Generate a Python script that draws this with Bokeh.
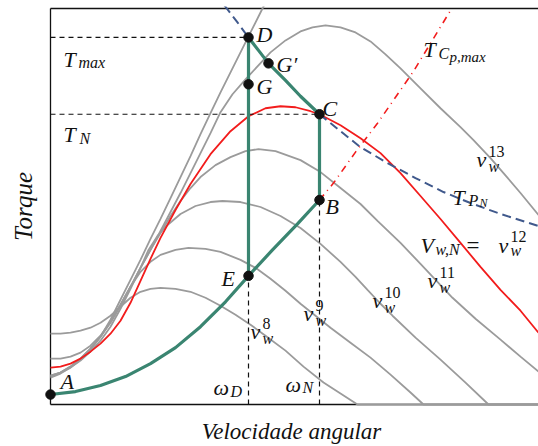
from bokeh.plotting import figure
from bokeh.models import Range1d, Label, FixedTicker
from bokeh.embed import file_html
from bokeh.resources import INLINE

# ---------------------------------------------------------------------------
# Torque / rotor-speed characteristics (arbitrary units)
# ---------------------------------------------------------------------------
w_v8 = [0, 10, 20, 30, 40, 50, 60, 70, 80, 90, 100, 110, 125, 140, 155, 170, 185, 200, 215, 235, 253, 273, 290, 307, 488]
t_v8 = [71, 71, 72, 74, 77, 82, 89, 98, 107, 113, 116, 117, 116, 113, 107, 99, 90, 80, 69, 54, 38, 22, 11, 0, 0]

w_v9 = [0, 10, 20, 30, 40, 50, 60, 70, 80, 90, 100, 110, 125, 138, 155, 170, 190, 205, 220, 235, 250, 265, 280, 300, 320, 340, 360, 373, 488]
t_v9 = [46, 46, 48, 52, 59, 69, 83, 100, 118, 133, 143, 150, 155, 157, 156, 153, 145, 137, 126, 114, 101, 89, 77, 62, 47, 30, 12, 0, 0]

w_v10 = [0, 10, 20, 30, 40, 50, 60, 70, 80, 90, 98, 107, 117, 130, 145, 160, 172, 190, 210, 230, 250, 270, 290, 305, 317, 330, 342, 365, 390, 415, 438, 488]
t_v10 = [29, 32, 37, 44, 53, 64, 78, 96, 116, 137, 155, 169, 180, 191, 199, 203, 204, 203, 198, 189, 177, 161, 143, 128, 115, 101, 89, 67, 45, 22, 0, 0]

w_v11 = [0, 10, 20, 30, 40, 50, 60, 70, 80, 90, 100, 110, 120, 130, 140, 150, 165, 180, 195, 208, 225, 250, 270, 290, 310, 327, 350, 370, 386, 402, 425, 450, 470, 488]
t_v11 = [28, 32, 38, 46, 56, 68, 82, 99, 118, 137, 155, 172, 189, 204, 217, 228, 240, 248, 254, 256, 254, 245, 233, 217, 201, 184, 162, 141, 124, 107, 86, 65, 48, 33]

# nominal wind speed
w_v12 = [0, 10, 20, 30, 40, 50, 60, 70, 80, 90, 100, 110, 125, 140, 160, 180, 198, 215, 230, 245, 260, 269, 290, 310, 330, 350, 370, 390, 410, 430, 450, 470, 488]
t_v12 = [37, 38, 41, 46, 53, 61, 71, 84, 102, 124, 146, 167, 195, 221, 251, 274, 289, 297, 299, 298, 294, 291, 280, 267, 252, 232, 209, 186, 162, 138, 115, 94, 72]

w_v13 = [0, 10, 20, 30, 40, 50, 60, 70, 80, 90, 100, 110, 120, 130, 140, 150, 160, 170, 182, 195, 207, 220, 235, 250, 262, 275, 290, 305, 320, 335, 350, 370, 390, 410, 423, 440, 453, 470, 488]
t_v13 = [29, 32, 38, 46, 56, 68, 83, 100, 118, 137, 155, 174, 193, 212, 232, 252, 272, 293, 311, 326, 339, 353, 365, 374, 378, 380, 378, 373, 364, 351, 337, 317, 297, 278, 265, 247, 232, 212, 190]

w_v14 = [0, 10, 20, 30, 40, 50, 60, 70, 80, 90, 100, 110, 120, 130, 140, 150, 160, 170, 180, 190, 200, 211, 215]
t_v14 = [27, 31, 37, 45, 55, 68, 85, 105, 125, 145, 166, 186, 207, 228, 249, 271, 292, 313, 333, 353, 373, 395, 403]

# optimal-Cp torque curve (A -> E -> B, then beyond B)
w_opt = [0, 25, 50, 75, 100, 125, 150, 175, 198, 222, 247, 269, 283, 305, 327, 345, 363, 380, 400]
t_opt = [10, 13, 19, 28, 41, 57, 78, 103, 129, 155, 181, 205, 222, 253, 282, 308, 334, 362, 395]
i_b = 11  # index of point B on the optimal curve

# constant nominal power curve
w_pn = [174, 187, 198, 208, 218, 235, 250, 269, 290, 310, 337, 365, 393, 420, 450, 488]
t_pn = [400, 383, 368, 355, 342, 325, 309, 291, 274, 258, 242, 227, 213, 202, 191, 179]
i_d, i_c = 2, 7  # D and C on the constant power curve

# operating points
pt_name = ["A", "B", "C", "D", "E", "G", "G\u2032"]
pt_w = [0, 269, 269, 198, 198, 198, 218]
pt_t = [10, 205, 291, 368, 129, 321, 342]

T_MAX, T_NOM = 368, 291
W_D, W_N = 198, 269
W_END, T_TOP = 488, 397

# ---------------------------------------------------------------------------
SERIF = "'Liberation Serif', 'DejaVu Serif', serif"
GRAY = "#9b9b9b"
RED = "#f21c1c"
GREEN = "#3a8571"
BLUE = "#40598c"
INK = "#111111"

p = figure(width=538, height=446, output_backend="svg", toolbar_location=None,
           x_range=Range1d(-6, W_END), y_range=Range1d(-2, 399),
           min_border_left=44, min_border_right=0, min_border_top=6, min_border_bottom=39)
p.outline_line_color = None
p.grid.visible = False

for ax in (p.xaxis[0], p.yaxis[0]):
    ax.ticker = FixedTicker(ticks=[])
    ax.axis_line_color = None
    ax.major_tick_line_color = None
    ax.minor_tick_line_color = None
    ax.major_label_text_font_size = "0px"
    ax.axis_label_text_font = SERIF
    ax.axis_label_text_font_style = "italic"
    ax.axis_label_text_color = INK
p.xaxis.axis_label = "Velocidade angular"
p.yaxis.axis_label = "Torque"
p.xaxis.axis_label_text_font_size = "23px"
p.yaxis.axis_label_text_font_size = "25px"
p.xaxis.axis_label_standoff = 12
p.yaxis.axis_label_standoff = 8

# frame: left, bottom and top edges
p.segment(x0=[0, 0, 0], y0=[0, 0, T_TOP], x1=[0, W_END, W_END], y1=[T_TOP, 0, T_TOP],
          line_color=INK, line_width=1.3)

# wind-speed torque curves
for w, t in [(w_v8, t_v8), (w_v9, t_v9), (w_v10, t_v10), (w_v11, t_v11),
             (w_v13, t_v13), (w_v14, t_v14)]:
    p.line(w, t, line_color=GRAY, line_width=1.8)
p.line(w_v12, t_v12, line_color=RED, line_width=1.8)

# reference levels
dash = dict(line_color=INK, line_width=1.2, line_dash="5 4")
p.segment(x0=[0, 0], y0=[T_MAX, T_NOM], x1=[W_D, W_N], y1=[T_MAX, T_NOM], **dash)
p.segment(x0=[W_N], y0=[0], x1=[W_N], y1=[t_opt[i_b]], **dash)
p.segment(x0=[W_D], y0=[0], x1=[W_D], y1=[pt_t[4]], level="overlay", **dash)

# constant power curve and Cp,max curve beyond B
p.line(w_pn[:i_d + 1], t_pn[:i_d + 1], line_color=BLUE, line_width=2.0, line_dash="9 5")
p.line(w_pn[i_c:], t_pn[i_c:], line_color=BLUE, line_width=2.0, line_dash="9 5")
p.line(w_opt[i_b:], t_opt[i_b:], line_color=RED, line_width=1.6, line_dash="7 5 1 5")

# control trajectory
g = dict(line_color=GREEN, line_width=3.2)
p.line(w_opt[:i_b + 1], t_opt[:i_b + 1], **g)
p.line(w_pn[i_d:i_c + 1], t_pn[i_d:i_c + 1], **g)
p.segment(x0=[W_D, W_N], y0=[pt_t[4], pt_t[1]], x1=[W_D, W_N], y1=[T_MAX, T_NOM], **g)

p.scatter(pt_w, pt_t, size=9.5, color=INK)

LIFT = 6  # raise all formula labels a little


def mtext(parts, bg=False):
    """parts: (x, y, text, size_px, italic) on alphabetic baselines."""
    if bg:
        for x, y, s, size, it in parts:
            p.add_layout(Label(x=x, y=y + LIFT, text=s, text_font=SERIF, text_font_size=f"{size}px",
                               text_font_style="italic" if it else "normal",
                               text_baseline="alphabetic", text_alpha=0.0,
                               background_fill_color="white", padding=2))
    for x, y, s, size, it in parts:
        p.add_layout(Label(x=x, y=y + LIFT, text=s, text_font=SERIF, text_font_size=f"{size}px",
                           text_font_style="italic" if it else "normal",
                           text_baseline="alphabetic", text_color=INK))


# point names
offsets = {"A": (10, 7), "B": (6, -12), "C": (3, 0), "D": (8, -3),
           "E": (-27, -9), "G": (8, -8), "G\u2032": (8, -7)}
for n, w, t in zip(pt_name, pt_w, pt_t):
    dx, dy = offsets[n]
    mtext([(w + dx, t + dy, n, 22, True)])

mtext([(13, 340, "T", 22, True), (28, 337, "max", 16, True)])
mtext([(13, 265, "T", 22, True), (29, 261, "N", 16, True)])
mtext([(163, 11, "\u03c9", 22, True), (180, 7, "D", 16, True)])
mtext([(235, 14, "\u03c9", 22, True), (252, 11, "N", 16, True)])
mtext([(373, 350, "T", 22, True), (388, 346, "C", 16, True), (399, 342, "p,max", 15, True)])
mtext([(402, 202, "T", 22, True), (418, 199, "P", 16, True), (429, 196, "N", 12, True)], bg=True)

for (x, y), sup in [((200, 67), "8"), ((253, 85), "9"), ((322, 98), "10"),
                    ((377, 118), "11"), ((426, 240), "13")]:
    mtext([(x, y, "v", 22, True), (x + 12, y + 8, sup, 16, False),
           (x + 12, y - 7, "w", 16, True)], bg=True)

mtext([(370, 153, "V", 22, True), (385, 149, "w,N", 16, True), (416, 153, "=", 23, False),
       (448, 153, "v", 22, True), (460, 162, "12", 16, False), (460, 148, "w", 16, True)], bg=True)

open("out.html", "w").write(file_html(p, INLINE))
